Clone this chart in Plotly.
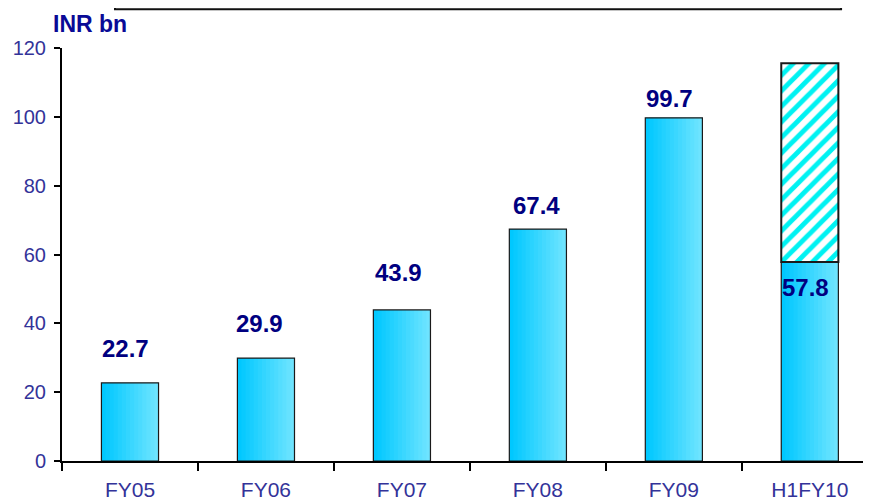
"""Bar chart: INR bn by fiscal year, with H1FY10 annualised segment hatched."""

import plotly.graph_objects as go

categories = ["FY05", "FY06", "FY07", "FY08", "FY09", "H1FY10"]
values = [22.7, 29.9, 43.9, 67.4, 99.7, 57.8]
labels = ["22.7", "29.9", "43.9", "67.4", "99.7", "57.8"]
# second half of FY10 (projected), stacked on the H1 value
proj_x = ["H1FY10"]
proj_base = [57.8]
proj_y = [57.8]

# label nudges in pixels (labels were hand placed in the original)
label_dx = [-4, -6, -3.5, -1.5, -4.5, -4]
label_dy = [34, 35, 37.5, 24, 19.5, -25]

NAVY = "#000080"
TICK = "#333399"
BAR_W = 0.42
STRIPS = 14


def mix(c1, c2, t):
    return "rgb(%d,%d,%d)" % tuple(round(a + (b - a) * t) for a, b in zip(c1, c2))


fig = go.Figure()

# Horizontal gradient fill faked with overlapping strips.
left, right = (0, 200, 255), (110, 228, 255)
step = BAR_W / STRIPS
for i in range(STRIPS):
    fig.add_trace(go.Bar(
        x=categories, y=values,
        width=min(2 * step, BAR_W - i * step),
        offset=-BAR_W / 2 + i * step,
        marker_color=mix(left, right, i / (STRIPS - 1)),
        marker_line_width=0,
        showlegend=False, hoverinfo="skip",
    ))

# Outline on top of the strips.
fig.add_trace(go.Bar(
    x=categories, y=values, width=BAR_W, offset=-BAR_W / 2,
    marker_color="rgba(0,0,0,0)",
    marker_line=dict(color="#1a1a1a", width=1.2),
    showlegend=False,
))

# Hatched projected segment.
fig.add_trace(go.Bar(
    x=proj_x, y=proj_y, base=proj_base, width=BAR_W, offset=-BAR_W / 2,
    marker=dict(
        color="white",
        line=dict(color="#1a1a1a", width=2),
        pattern=dict(shape="/", fgcolor="#00f2f2", bgcolor="white",
                     size=11, solidity=0.45, fillmode="replace"),
    ),
    showlegend=False,
))

# Value labels: above the bars, inside for the last one.
for cat, val, txt, dx, dy in zip(categories, values, labels, label_dx, label_dy):
    fig.add_annotation(
        x=cat, y=val, text=txt, showarrow=False,
        xshift=dx, yshift=dy,
        font=dict(family="Liberation Sans, Arial", size=24, color=NAVY,
                  weight="bold"),
    )

fig.add_annotation(
    xref="paper", yref="paper", x=-0.013, y=1.058,
    xanchor="left", yanchor="middle", text="<b>INR bn</b>", showarrow=False,
    font=dict(family="Liberation Sans, Arial", size=23, color="#0a0a96"),
)

# Partially visible header box above the chart.
fig.add_shape(
    type="rect", xref="paper", yref="paper",
    x0=0.0655, x1=0.963, y0=1.094, y1=1.3,
    line=dict(color="#111111", width=2), fillcolor="rgba(0,0,0,0)",
)

# The page body adds an 8px margin, so the figure is 8px smaller each way.
fig.update_layout(
    barmode="overlay",
    width=863, height=494,
    margin=dict(l=54, r=0, t=40, b=41, autoexpand=False),
    plot_bgcolor="white", paper_bgcolor="white",
    font=dict(family="Liberation Sans, Arial", size=20, color=TICK),
    xaxis=dict(
        range=[-0.5, 5.45], showline=True, linecolor="black", linewidth=2,
        ticks="outside", tickson="boundaries", ticklen=8, tickwidth=2,
        tickcolor="black", showgrid=False, zeroline=False, automargin=False,
        ticklabelstandoff=9,
        tickfont=dict(size=21, color=TICK),
    ),
    yaxis=dict(
        range=[0, 120], dtick=20, showline=True, linecolor="black",
        linewidth=2, ticks="outside", ticklen=6, tickwidth=2,
        tickcolor="black", showgrid=False, zeroline=False, automargin=False,
        ticklabelstandoff=4,
        tickfont=dict(size=20, color=TICK),
    ),
)

fig.write_html("out.html")
